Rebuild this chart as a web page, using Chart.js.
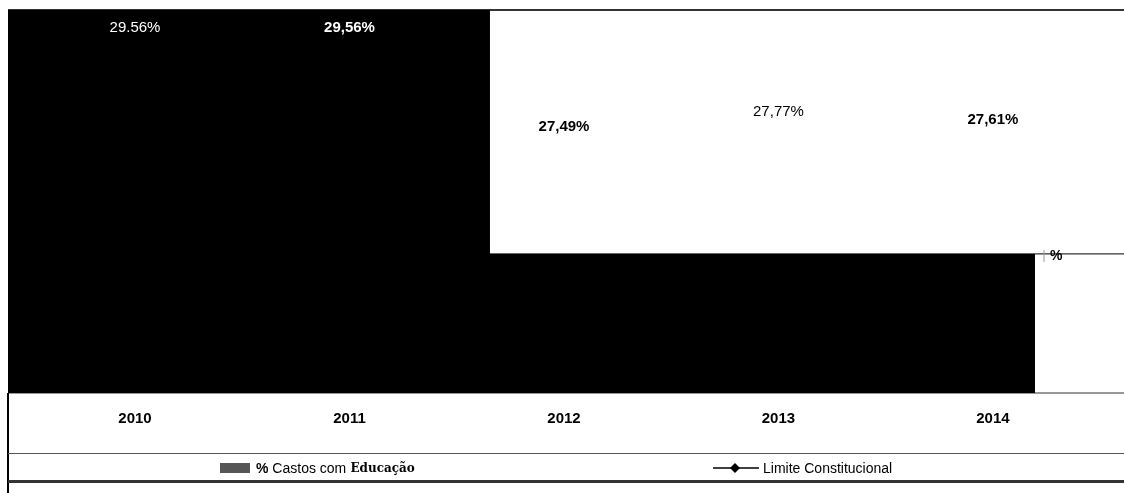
<!DOCTYPE html>
<html lang="pt">
<head>
<meta charset="utf-8">
<title>% Gastos com Educação</title>
<script src="https://cdn.jsdelivr.net/npm/chart.js@4.4.1/dist/chart.umd.min.js"></script>
<style>
  html, body { margin: 0; padding: 0; background: #fff; }
  #wrap { position: relative; width: 1124px; height: 493px; font-family: "Liberation Sans", Arial, sans-serif; }
  #grafico { position: absolute; left: 0; top: 0; }
  #moldura { position: absolute; left: 7px; top: 393px; width: 1117px; height: 100px; border-left: 2px solid #000; box-sizing: border-box; }
  #legenda { position: absolute; left: 8px; top: 453px; width: 1116px; height: 30px; border-top: 1px solid #555; border-bottom: 3px solid #333; box-sizing: border-box; font-size: 14px; color: #000; }
  .item { position: absolute; top: 6px; display: flex; align-items: center; white-space: nowrap; }
  .caixa { width: 30px; height: 10px; background: #555; margin-right: 6px; }
</style>
</head>
<body>
<div id="wrap">
  <canvas id="grafico" width="1124" height="493"></canvas>
  <div id="moldura"></div>
  <div id="legenda">
    <div class="item" style="left:212px"><span class="caixa"></span><b>%</b>&nbsp;Castos com <b style="font-family:'DejaVu Serif',serif;font-size:12px">&nbsp;Educação</b></div>
    <div class="item" style="left:705px">
      <svg width="46" height="12" style="margin-right:4px"><line x1="0" y1="6" x2="46" y2="6" stroke="#000" stroke-width="1.5"/><polygon points="22,1 27,6 22,11 17,6" fill="#000"/></svg>Limite Constitucional
    </div>
  </div>
</div>
<script>
// dados
const anos = [2010, 2011, 2012, 2013, 2014];
const gastosEducacao = [29.56, 29.56, 27.49, 27.77, 27.61];
const rotulosGastos = ['29.56%', '29,56%', '27,49%', '27,77%', '27,61%'];
const limiteConstitucional = [25, 25, 25, 25, 25];
const rotuloLimite = '%';

// aparência (fora dos dados)
const fonte = '"Liberation Sans", Arial, sans-serif';
const corBarras = ['#000', '#000', 'rgba(0,0,0,0)', 'rgba(0,0,0,0)', 'rgba(0,0,0,0)'];
const rotuloNegrito = [false, true, true, false, true];

// linhas de referência e rótulos
const molduraPlugin = {
  id: 'moldura',
  beforeDatasetsDraw(chart) {
    const { ctx, chartArea, scales } = chart;
    const yLim = scales.y.getPixelForValue(limiteConstitucional[0]);
    ctx.save();
    ctx.strokeStyle = '#333';
    ctx.lineWidth = 2;
    ctx.beginPath(); ctx.moveTo(chartArea.left, chartArea.top); ctx.lineTo(chart.width, chartArea.top); ctx.stroke();
    ctx.lineWidth = 1.2;
    ctx.beginPath(); ctx.moveTo(chartArea.left, yLim); ctx.lineTo(chart.width, yLim); ctx.stroke();
    ctx.beginPath(); ctx.moveTo(chartArea.left, chartArea.bottom); ctx.lineTo(chart.width, chartArea.bottom); ctx.stroke();
    ctx.strokeStyle = '#999';
    ctx.lineWidth = 1;
    ctx.beginPath(); ctx.moveTo(chartArea.right + 9, yLim - 4); ctx.lineTo(chartArea.right + 9, yLim + 8); ctx.stroke();
    ctx.fillStyle = '#000';
    ctx.font = 'bold 14px ' + fonte;
    ctx.textAlign = 'left';
    ctx.textBaseline = 'top';
    ctx.fillText(rotuloLimite, chartArea.right + 15, yLim - 5);
    ctx.restore();
  },
  afterDatasetsDraw(chart) {
    const { ctx } = chart;
    const meta = chart.getDatasetMeta(0);
    ctx.save();
    ctx.textAlign = 'center';
    ctx.textBaseline = 'middle';
    meta.data.forEach((barra, i) => {
      const dentro = corBarras[i] === '#000';
      ctx.fillStyle = dentro ? '#fff' : '#000';
      ctx.font = (rotuloNegrito[i] ? 'bold 15px ' : '15px ') + fonte;
      ctx.fillText(rotulosGastos[i], barra.x, barra.y + (dentro ? 18 : 6));
    });
    ctx.restore();
  }
};

const ctx = document.getElementById('grafico').getContext('2d');
new Chart(ctx, {
  type: 'bar',
  data: {
    datasets: [{
      label: '% Castos com Educação',
      data: anos.map((a, i) => ({ x: a, y: gastosEducacao[i] })),
      backgroundColor: corBarras,
      borderWidth: 0,
      grouped: false,
      categoryPercentage: 1,
      barPercentage: 1.31,
      clip: 0,
      order: 1
    }, {
      label: 'Limite Constitucional',
      data: anos.map((a, i) => ({ x: a, y: limiteConstitucional[i] })),
      backgroundColor: '#000',
      borderWidth: 0,
      grouped: false,
      categoryPercentage: 1,
      barPercentage: 1.31,
      clip: 0,
      order: 2
    }]
  },
  options: {
    responsive: false,
    animation: false,
    layout: { padding: { left: 8, right: 89, top: 10, bottom: 0 } },
    plugins: {
      legend: { display: false },
      tooltip: { enabled: false }
    },
    scales: {
      x: {
        type: 'linear',
        offset: false,
        min: 2009.408,
        max: 2014.196,
        grid: { display: false, drawTicks: false },
        border: { display: false },
        afterBuildTicks: (s) => { s.ticks = anos.map(v => ({ value: v })); },
        afterFit: (s) => { s.height = 100; },
        ticks: {
          padding: 17,
          color: '#000',
          autoSkip: false,
          maxRotation: 0,
          font: { size: 15, weight: 'bold', family: fonte },
          callback: (v) => String(v)
        }
      },
      y: { min: 22.4, max: 29.56, display: false }
    }
  },
  plugins: [molduraPlugin]
});
</script>
</body>
</html>
